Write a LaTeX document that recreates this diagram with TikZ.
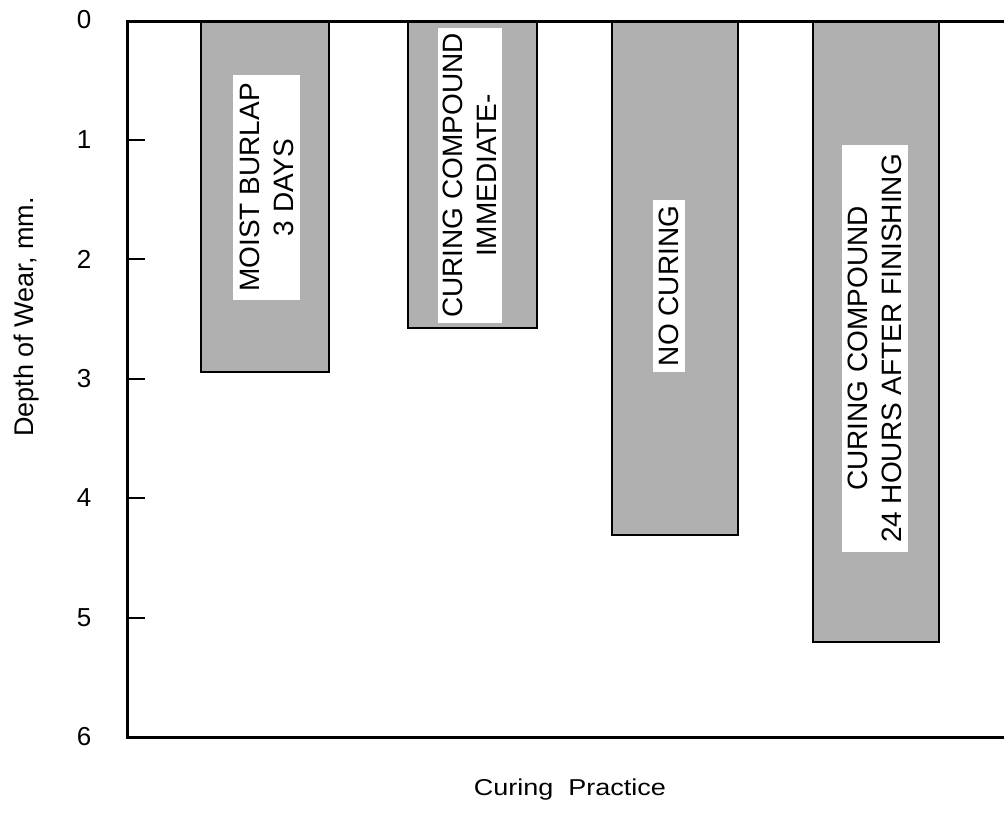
\documentclass[tikz,border=0pt]{standalone}
\usepackage{fontspec}
\setmainfont{Liberation Sans}

\tikzset{
  axisline/.style={line width=1.5pt},
  tickline/.style={line width=1pt},
  wearbar/.style={draw, line width=1.1pt, fill=black!31},
  barlabel/.style={rotate=90, fill=white, align=center, inner sep=0pt,
    font=\fontsize{14}{17}\selectfont},
  ticklabel/.style={font=\fontsize{13}{15}\selectfont},
  axislabel/.style={font=\fontsize{13.5}{16}\selectfont},
}

\begin{document}
\begin{tikzpicture}[x=0.5pt, y=-0.5pt]
\useasboundingbox (0,0) rectangle (1004,814);

% bars
\foreach \n/\l/\r/\b in {1/201/329/372, 2/408/537/328, 3/612/738/535, 4/813/939/642} {
    \draw[wearbar] (\l,21) rectangle (\r,\b);
}

% labels inside the bars
\node[barlabel, minimum width=112.5pt, minimum height=33.5pt] (label-1) at (266.5,187.5) {MOIST BURLAP\\3 DAYS};
\node[barlabel, minimum width=147.5pt, minimum height=32pt] (label-2) at (470,175.5) {CURING COMPOUND\\IMMEDIATE-};
\node[barlabel, minimum width=86pt, minimum height=16pt] (label-3) at (669,286) {NO CURING};
\node[barlabel, minimum width=203.5pt, minimum height=33pt] (label-4) at (875,348.5) {CURING COMPOUND\\24 HOURS AFTER FINISHING};

% axes
\draw[axisline] (1004,21) -- (127,21) -- (127,737) -- (1004,737);

% ticks
\foreach \v in {0, ..., 6} {
    \node[ticklabel] (tick-\v) at (84, {20+119.5*\v}) {\v};
}
\foreach \v in {1, ..., 5} {
    \draw[tickline] (127, {20+119.5*\v}) -- (145, {20+119.5*\v});
}

% axis titles
\node[axislabel, rotate=90] (ytitle) at (27,317) {Depth of Wear, mm.};
\node[axislabel, yscale=0.85] (xtitle) at (570,790) {Curing\ \ Practice};

\end{tikzpicture}
\end{document}
